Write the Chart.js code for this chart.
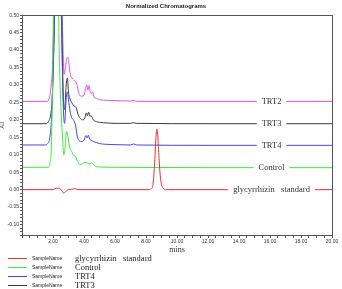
<!DOCTYPE html>
<html>
<head>
<meta charset="utf-8">
<script src="https://cdn.jsdelivr.net/npm/chart.js@4/dist/chart.umd.min.js"></script>
<style>
  html, body { margin: 0; padding: 0; background: #fff; }
  #chrom { display: block; }
</style>
</head>
<body>
<canvas id="chrom" width="342" height="289"></canvas>
<script>
(function () {
	'use strict';

	// Sample names (legend order = dataset order)
	var names = ['glycyrrhizin   standard', 'Control', 'TRT4', 'TRT3', 'TRT2'];
	var colors = ['#e83030', '#3ee83e', '#4646e6', '#3a3a3a', '#e052e0'];

	// Retention time (min) / absorbance (AU)
	var stdTime = [0, 2.0, 2.2, 2.4, 2.55, 2.7, 2.85, 3.0, 3.2, 3.4, 3.6, 8.2, 8.35, 8.45, 8.55, 8.63, 8.7, 8.76, 8.84, 8.92, 9.0, 9.1, 9.25, 20];
	var stdAU   = [0, 0, 0.004, 0.004, -0.002, -0.01, -0.004, 0.0, 0.001, 0.003, 0, 0, 0.003, 0.015, 0.07, 0.14, 0.173, 0.155, 0.09, 0.04, 0.015, 0.005, 0.0, 0];

	var ctlTime = [0, 1.7, 1.8, 1.9, 2.0, 2.1, 2.2, 2.3, 2.4, 2.5, 2.6, 2.7, 2.78, 2.87, 2.95, 3.05, 3.2, 3.3, 3.45, 3.6, 3.75, 3.9, 4.05, 4.2, 4.35, 4.5, 4.7, 5.0, 6.0, 12, 20];
	var ctlAU   = [0.064, 0.064, 0.075, 0.13, 0.4, 0.8, 0.95, 0.7, 0.4, 0.25, 0.16, 0.1, 0.12, 0.168, 0.155, 0.125, 0.11, 0.1, 0.095, 0.08, 0.072, 0.074, 0.078, 0.077, 0.074, 0.077, 0.068, 0.065, 0.064, 0.063, 0.063];

	var trt4Time = [0, 1.5, 1.65, 1.78, 1.9, 2.0, 2.1, 2.25, 2.4, 2.5, 2.6, 2.68, 2.75, 2.85, 2.93, 3.02, 3.12, 3.22, 3.32, 3.45, 3.58, 3.7, 3.85, 4.0, 4.12, 4.2, 4.28, 4.36, 4.45, 4.6, 4.8, 5.0, 5.4, 6.0, 7.0, 7.2, 7.4, 12, 20];
	var trt4AU   = [0.128, 0.128, 0.132, 0.145, 0.2, 0.33, 0.5, 0.75, 0.85, 0.6, 0.35, 0.22, 0.19, 0.26, 0.28, 0.25, 0.22, 0.205, 0.2, 0.185, 0.15, 0.14, 0.138, 0.142, 0.155, 0.148, 0.156, 0.145, 0.142, 0.138, 0.135, 0.132, 0.13, 0.129, 0.128, 0.131, 0.128, 0.127, 0.127];

	var trt3Time = [0, 1.55, 1.7, 1.85, 1.95, 2.05, 2.2, 2.35, 2.5, 2.6, 2.68, 2.75, 2.85, 2.93, 3.0, 3.1, 3.2, 3.35, 3.5, 3.62, 3.75, 3.9, 4.05, 4.15, 4.22, 4.3, 4.38, 4.45, 4.6, 4.8, 5.0, 5.5, 6.0, 7.0, 7.2, 7.4, 12, 20];
	var trt3AU   = [0.189, 0.189, 0.195, 0.215, 0.26, 0.4, 0.7, 0.9, 0.7, 0.4, 0.25, 0.23, 0.3, 0.32, 0.28, 0.26, 0.25, 0.24, 0.235, 0.215, 0.205, 0.2, 0.205, 0.22, 0.212, 0.222, 0.21, 0.212, 0.2, 0.195, 0.193, 0.191, 0.19, 0.19, 0.192, 0.19, 0.189, 0.189];

	var trt2Time = [0, 1.6, 1.75, 1.88, 1.96, 2.05, 2.2, 2.4, 2.55, 2.65, 2.72, 2.8, 2.88, 2.95, 3.03, 3.12, 3.22, 3.32, 3.42, 3.52, 3.62, 3.72, 3.85, 4.0, 4.1, 4.18, 4.25, 4.32, 4.4, 4.47, 4.55, 4.65, 4.8, 5.0, 5.5, 6.0, 7.0, 7.2, 7.4, 12, 20];
	var trt2AU   = [0.253, 0.253, 0.26, 0.3, 0.345, 0.5, 0.8, 0.9, 0.6, 0.4, 0.33, 0.35, 0.375, 0.38, 0.36, 0.33, 0.32, 0.315, 0.31, 0.305, 0.285, 0.27, 0.268, 0.27, 0.29, 0.3, 0.285, 0.298, 0.28, 0.275, 0.28, 0.265, 0.262, 0.258, 0.256, 0.255, 0.254, 0.256, 0.253, 0.253, 0.253];

	var times = [stdTime, ctlTime, trt4Time, trt3Time, trt2Time];
	var values = [stdAU, ctlAU, trt4AU, trt3AU, trt2AU];

	var labelAt = 16.1; // minutes, where the sample name sits on its trace

	function pts(t, v) {
		return t.map(function (x, i) { return { x: x, y: v[i] }; });
	}

	var datasets = names.map(function (n, i) {
		return {
			label: n,
			data: pts(times[i], values[i]),
			borderColor: colors[i],
			backgroundColor: colors[i],
			borderWidth: 1,
			pointRadius: 0,
			cubicInterpolationMode: 'monotone',
			fill: false
		};
	});

	// Name written on each trace, line broken around it
	var traceLabels = {
		id: 'traceLabels',
		afterDatasetsDraw: function (chart) {
			var c = chart.ctx, xs = chart.scales.x, ys = chart.scales.y;
			c.save();
			c.font = '8.5px "Liberation Serif"';
			c.textAlign = 'center';
			c.textBaseline = 'middle';
			chart.data.datasets.forEach(function (ds) {
				var base = ds.data[ds.data.length - 1].y;
				var x = xs.getPixelForValue(labelAt);
				var y = ys.getPixelForValue(base);
				var w = c.measureText(ds.label).width;
				c.fillStyle = '#fff';
				c.fillRect(x - w / 2 - 5, y - 4, w + 10, 8);
				c.fillStyle = '#333';
				c.fillText(ds.label, x, y);
			});
			c.restore();
		}
	};

	// box around the plot
	var frame = {
		id: 'frame',
		afterDraw: function (chart) {
			var a = chart.chartArea, c = chart.ctx;
			c.save();
			c.strokeStyle = '#555';
			c.lineWidth = 1;
			c.strokeRect(Math.round(a.left) + 0.5, Math.round(a.top) + 0.5, Math.round(a.right - a.left), Math.round(a.bottom - a.top));
			c.restore();
		}
	};

	// SampleName legend under the axis
	var sampleLegend = {
		id: 'sampleLegend',
		afterDraw: function (chart) {
			var c = chart.ctx;
			c.save();
			c.textBaseline = 'middle';
			chart.data.datasets.forEach(function (ds, i) {
				var y = chart.chartArea.bottom + 23.5 + i * 9;
				c.strokeStyle = ds.borderColor;
				c.lineWidth = 1;
				c.beginPath();
				c.moveTo(8, y);
				c.lineTo(27, y);
				c.stroke();
				c.fillStyle = '#222';
				c.font = '5px "Liberation Sans"';
				c.fillText('SampleName', 32, y);
				c.font = '8.5px "Liberation Serif"';
				c.fillText(ds.label, 75, y);
			});
			c.restore();
		}
	};

	var tickFont = { family: '"Liberation Sans"', size: 5 };

	new Chart(document.getElementById('chrom'), {
		type: 'line',
		data: { datasets: datasets },
		plugins: [traceLabels, frame, sampleLegend],
		options: {
			responsive: false,
			animation: false,
			devicePixelRatio: 1,
			layout: { padding: { top: 1, right: 10, bottom: 34, left: 0 } },
			plugins: {
				legend: { display: false },
				tooltip: { enabled: false },
				title: {
					display: true,
					text: 'Normalized Chromatograms',
					color: '#222',
					font: { family: '"Liberation Sans"', size: 6, weight: 'bold' },
					padding: { top: 2, bottom: 5 }
				}
			},
			scales: {
				x: {
					type: 'linear',
					min: 0,
					max: 20,
					afterFit: function (s) { s.height = 20; },
					border: { display: true, color: '#555' },
					grid: { display: true, drawOnChartArea: false, drawTicks: true, tickLength: 3, color: '#555' },
					ticks: {
						stepSize: 0.5,
						autoSkip: false,
						maxRotation: 0,
						padding: 1,
						color: '#333',
						font: tickFont,
						callback: function (v) {
							return (v > 0 && Math.abs(v % 2) < 1e-6) ? v.toFixed(2) : '';
						}
					},
					title: {
						display: true,
						text: 'mins',
						color: '#333',
						padding: 0,
						font: { family: '"Liberation Serif"', size: 8 }
					}
				},
				y: {
					min: -0.13,
					max: 0.50,
					afterFit: function (s) { s.width = 22; },
					border: { display: true, color: '#555' },
					grid: { display: true, drawOnChartArea: false, drawTicks: true, tickLength: 2, color: '#555' },
					ticks: {
						stepSize: 0.01,
						autoSkip: false,
						padding: 1,
						color: '#333',
						font: tickFont,
						callback: function (v) {
							var k = Math.round(v * 100);
							return (k % 5 === 0) ? (k / 100).toFixed(2) : '';
						}
					},
					title: {
						display: true,
						text: 'AU',
						color: '#333',
						padding: 0,
						font: { family: '"Liberation Sans"', size: 5 }
					}
				}
			}
		}
	});
}());
</script>
</body>
</html>
